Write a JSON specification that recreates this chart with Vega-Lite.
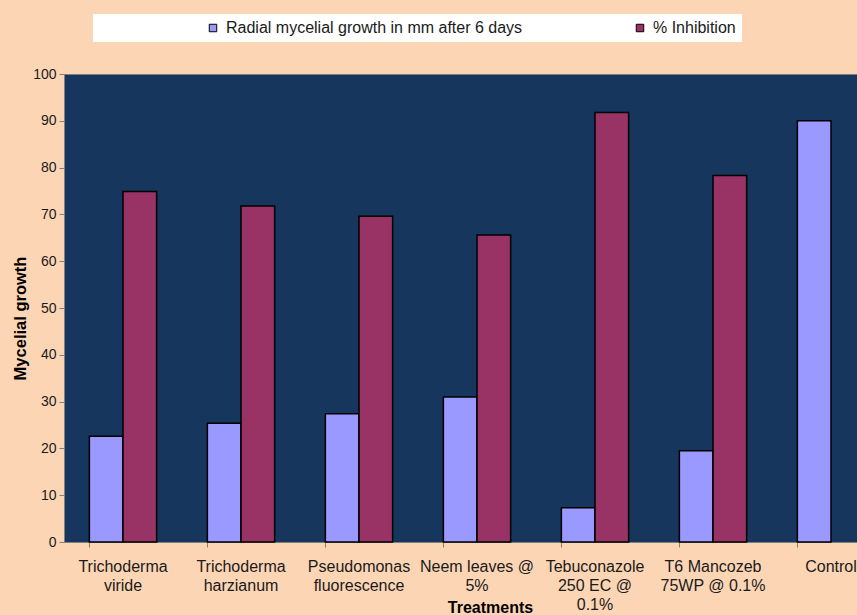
{
  "$schema": "https://vega.github.io/schema/vega-lite/v6.json",
  "width": 793,
  "height": 468,
  "autosize": {"type": "none"},
  "padding": {"left": 64, "top": 74, "right": 0, "bottom": 73},
  "background": "#FCD5B5",
  "config": {
    "font": "Liberation Sans",
    "view": {"fill": "#17365D", "stroke": "#7F7F7F", "strokeWidth": 1}
  },
  "data": {
    "values": [
      {"treatment": "Trichoderma|viride", "series": "Radial mycelial growth in mm after 6 days", "value": 22.6},
      {"treatment": "Trichoderma|viride", "series": "% Inhibition", "value": 74.9},
      {"treatment": "Trichoderma|harzianum", "series": "Radial mycelial growth in mm after 6 days", "value": 25.4},
      {"treatment": "Trichoderma|harzianum", "series": "% Inhibition", "value": 71.8},
      {"treatment": "Pseudomonas|fluorescence", "series": "Radial mycelial growth in mm after 6 days", "value": 27.4},
      {"treatment": "Pseudomonas|fluorescence", "series": "% Inhibition", "value": 69.6},
      {"treatment": "Neem leaves @|5%", "series": "Radial mycelial growth in mm after 6 days", "value": 31.0},
      {"treatment": "Neem leaves @|5%", "series": "% Inhibition", "value": 65.6},
      {"treatment": "Tebuconazole|250 EC @|0.1%", "series": "Radial mycelial growth in mm after 6 days", "value": 7.3},
      {"treatment": "Tebuconazole|250 EC @|0.1%", "series": "% Inhibition", "value": 91.8},
      {"treatment": "T6  Mancozeb|75WP @  0.1%", "series": "Radial mycelial growth in mm after 6 days", "value": 19.5},
      {"treatment": "T6  Mancozeb|75WP @  0.1%", "series": "% Inhibition", "value": 78.3},
      {"treatment": "Control", "series": "Radial mycelial growth in mm after 6 days", "value": 90.0}
    ]
  },
  "mark": {"type": "bar", "stroke": "#000000", "strokeWidth": 1.5},
  "encoding": {
    "x": {
      "field": "treatment",
      "type": "nominal",
      "sort": null,
      "scale": {"range": [0, 826], "paddingInner": 0.43, "paddingOuter": 0.215},
      "axis": {
        "title": "Treatments",
        "titleFontSize": 16,
        "titleFontWeight": "bold",
        "titleColor": "#000000",
        "titleX": 426,
        "titleY": 57,
        "titleBaseline": "top",
        "labelAngle": 0,
        "labelExpr": "split(datum.label, '|')",
        "labelFontSize": 16,
        "labelLineHeight": 19,
        "labelColor": "#1A1A1A",
        "labelPadding": 11,
        "labelBaseline": "top",
        "labelLimit": 200,
        "bandPosition": 0,
        "tickSize": 5,
        "tickColor": "#7F7F7F",
        "domainColor": "#7F7F7F"
      }
    },
    "xOffset": {
      "field": "series",
      "sort": ["Radial mycelial growth in mm after 6 days", "% Inhibition"]
    },
    "y": {
      "field": "value",
      "type": "quantitative",
      "scale": {"domain": [0, 100]},
      "axis": {
        "title": "Mycelial growth",
        "titleFontSize": 16.5,
        "titleFontWeight": "bold",
        "titleColor": "#000000",
        "titlePadding": 4,
        "titleY": 244,
        "values": [0, 10, 20, 30, 40, 50, 60, 70, 80, 90, 100],
        "grid": false,
        "labelFontSize": 14,
        "labelColor": "#1A1A1A",
        "labelPadding": 3,
        "tickSize": 5,
        "tickColor": "#7F7F7F",
        "domainColor": "#7F7F7F"
      }
    },
    "color": {
      "field": "series",
      "type": "nominal",
      "scale": {
        "domain": ["Radial mycelial growth in mm after 6 days", "% Inhibition"],
        "range": ["#9999FF", "#993366"]
      },
      "legend": {
        "title": null,
        "orient": "none",
        "legendX": 29,
        "legendY": -60,
        "direction": "horizontal",
        "gridAlign": "all",
        "fillColor": "#FFFFFF",
        "padding": 6,
        "symbolOffset": 106,
        "columnPadding": 3,
        "symbolType": "square",
        "symbolSize": 56,
        "symbolStrokeColor": "#000000",
        "symbolStrokeWidth": 1,
        "labelFontSize": 16,
        "labelColor": "#1A1A1A",
        "labelOffset": 5,
        "labelLimit": 400
      }
    }
  }
}
